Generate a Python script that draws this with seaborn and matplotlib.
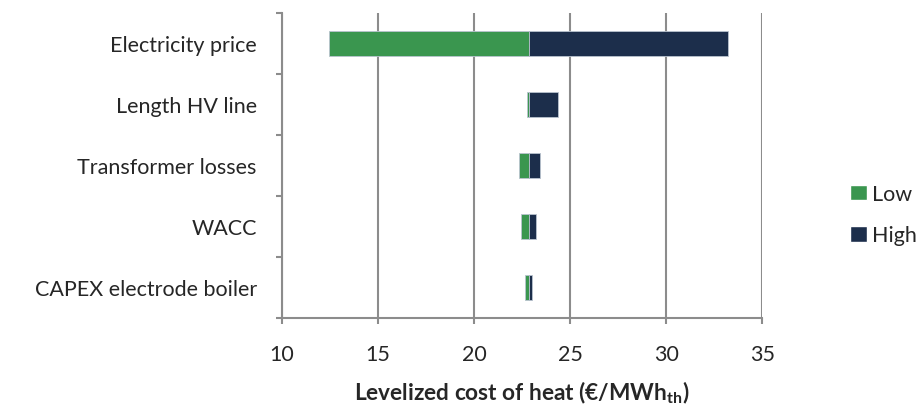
import numpy as np
import pandas as pd
import matplotlib
matplotlib.use("Agg")
import matplotlib.pyplot as plt
import seaborn as sns
from matplotlib.ticker import FixedLocator
from matplotlib.patches import Patch

# --- data ---
params = ["Electricity price", "Length HV line", "Transformer losses",
          "WACC", "CAPEX electrode boiler"]
low_vals = [12.47, 22.74, 22.36, 22.45, 22.66]
high_vals = [33.21, 24.39, 23.42, 23.23, 23.04]
base = 22.86
x_ticks = [10, 15, 20, 25, 30, 35]

green = "#3A964F"
navy = "#1C2E4B"
fs = 15.5

sns.set_theme(style="white")
plt.rcParams["font.family"] = ["Lato", "DejaVu Sans"]
plt.rcParams["mathtext.fontset"] = "custom"
plt.rcParams["mathtext.bf"] = "Lato:bold"
plt.rcParams["mathtext.rm"] = "Lato"

df = pd.DataFrame({
    "param": params * 2,
    "case": ["Low"] * len(params) + ["High"] * len(params),
    "delta": [v - base for v in low_vals] + [v - base for v in high_vals],
})

fig = plt.figure(figsize=(9.24, 4.10), dpi=100)
ax = fig.add_axes([0.305, 0.222, 0.52, 0.744])

sns.barplot(data=df, y="param", x="delta", hue="case", orient="h",
            palette={"Low": green, "High": navy}, dodge=False, width=0.41,
            saturation=1, left=base, edgecolor="#b9c3cf", linewidth=0.6,
            ax=ax, zorder=3, legend=False)

ax.set_xlim(10, 35)
ax.set_xticks(x_ticks)
ax.set_xticklabels([str(t) for t in x_ticks], fontsize=fs)
ax.xaxis.grid(True, color="#8c8c8c", linewidth=1.5, zorder=0)
ax.yaxis.grid(False)

# category separators on the left axis
n = len(params)
ax.set_ylim(n - 0.5, -0.5)
ax.yaxis.set_minor_locator(FixedLocator(np.arange(-0.5, n, 1)))
ax.tick_params(axis="y", which="major", length=0, pad=18, labelsize=fs)
ax.tick_params(axis="y", which="minor", length=4, width=1.5, color="#8c8c8c",
               direction="out", left=True)
ax.tick_params(axis="x", which="major", length=4, width=1.5, color="#8c8c8c",
               direction="out", bottom=True, pad=15)

for s in ["top", "right"]:
    ax.spines[s].set_visible(False)
for s in ["left", "bottom"]:
    ax.spines[s].set_color("#8c8c8c")
    ax.spines[s].set_linewidth(1.5)

ax.set_ylabel("")
ax.set_xlabel(r"Levelized cost of heat (€/MWh$_\mathbf{th}$)",
              fontsize=16.3, fontweight="bold", labelpad=10)

handles = [Patch(facecolor=green, label="Low"), Patch(facecolor=navy, label="High")]
fig.legend(handles=handles, loc="upper left", bbox_to_anchor=(0.911, 0.57),
           frameon=False, fontsize=fs, handlelength=0.75, handleheight=0.75,
           handletextpad=0.25, labelspacing=1.0, borderaxespad=0)

fig.savefig("out.png", dpi=100)
